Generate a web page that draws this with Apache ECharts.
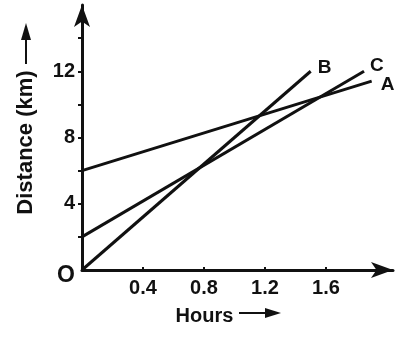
<!DOCTYPE html>
<html><head><meta charset="utf-8">
<script src="https://cdn.jsdelivr.net/npm/echarts@6/dist/echarts.min.js"></script>
<style>html,body{margin:0;padding:0;background:#fff}#c{width:404px;height:338px}</style>
</head><body><div id="c"></div>
<script>
// ---- data ----
const lineNames = ['A', 'B', 'C'];
const aHours = [0, 1.9];
const aDistance = [6, 11.4];
const bHours = [0, 1.5];
const bDistance = [0, 12];
const cHours = [0, 1.85];
const cDistance = [2, 12];
const xTickValues = [0.4, 0.8, 1.2, 1.6];
const xTickLabels = ['0.4', '0.8', '1.2', '1.6'];
const yTickValues = [2, 4, 6, 8, 10, 12, 14];
const yLabelValues = [0, 4, 8, 12];
const yTickLabels = ['O', '4', '8', '12'];
const xAxisTitle = 'Hours';
const yAxisTitle = 'Distance (km)';

const FONT = "'Liberation Sans', Arial, sans-serif";
const INK = '#111';

function pairs(xs, ys) { return xs.map((x, i) => [x, ys[i]]); }
const seriesData = [pairs(aHours, aDistance), pairs(bHours, bDistance), pairs(cHours, cDistance)];
const labelOffsets = [[4, 4], [2, -3], [1, -5]];

const chart = echarts.init(document.getElementById('c'), null, { renderer: 'canvas' });

const near = (a, b) => Math.abs(a - b) < 1e-6;

chart.setOption({
  animation: false,
  backgroundColor: '#fff',
  grid: { left: 82, right: 11, top: 5, bottom: 68, containLabel: false },
  xAxis: {
    type: 'value', min: 0, max: 2.04, interval: 0.4,
    name: xAxisTitle, nameLocation: 'middle', nameGap: 36,
    nameTextStyle: { fontFamily: FONT, fontWeight: 'bold', fontSize: 20, color: INK, padding: [0, 66, 0, 0] },
    axisLine: { show: true, symbol: ['none', 'arrow'], symbolSize: [12, 22], lineStyle: { color: INK, width: 3 } },
    axisTick: { show: true, inside: true, length: 3, customValues: xTickValues, lineStyle: { color: INK, width: 2 } },
    splitLine: { show: false },
    axisLabel: {
      margin: 8, fontFamily: FONT, fontWeight: 'bold', fontSize: 20, color: INK,
      customValues: xTickValues,
      formatter: v => { const i = xTickValues.findIndex(t => near(t, v)); return i >= 0 ? xTickLabels[i] : ''; }
    }
  },
  yAxis: {
    type: 'value', min: 0, max: 16, interval: 2,
    name: yAxisTitle, nameLocation: 'middle', nameGap: 45, nameRotate: 90,
    nameTextStyle: { fontFamily: FONT, fontWeight: 'bold', fontSize: 22, color: INK, padding: [0, 10, 0, 0] },
    axisLine: { show: true, symbol: ['none', 'arrow'], symbolSize: [12, 22], lineStyle: { color: INK, width: 3 } },
    axisTick: { show: true, length: 4, customValues: yTickValues, lineStyle: { color: INK, width: 2 } },
    splitLine: { show: false },
    axisLabel: {
      margin: 7, fontFamily: FONT, fontWeight: 'bold', fontSize: 20, color: INK,
      customValues: yLabelValues,
      formatter: v => {
        const i = yLabelValues.findIndex(t => near(t, v));
        if (i < 0) return '';
        return v === 0 ? '{o|' + yTickLabels[i] + '}' : yTickLabels[i];
      },
      rich: { o: { fontFamily: FONT, fontWeight: 'bold', fontSize: 23, color: INK, padding: [12, 0, 0, 0] } }
    }
  },
  graphic: [
    { type: 'line', shape: { x1: 26, y1: 64, x2: 26, y2: 36 }, style: { stroke: INK, lineWidth: 2 } },
    { type: 'polygon', shape: { points: [[26, 23], [21, 40], [31, 40]] }, style: { fill: INK } },
    { type: 'line', shape: { x1: 239, y1: 313, x2: 268, y2: 313 }, style: { stroke: INK, lineWidth: 2 } },
    { type: 'polygon', shape: { points: [[281, 313], [265, 308], [265, 318]] }, style: { fill: INK } }
  ],
  series: lineNames.map((nm, k) => ({
    type: 'line', name: nm, data: seriesData[k],
    showSymbol: false, symbol: 'none',
    lineStyle: { color: INK, width: 3 },
    endLabel: {
      show: true, formatter: nm, distance: 5, offset: labelOffsets[k],
      fontFamily: FONT, fontWeight: 'bold', fontSize: 19, color: INK
    },
    z: 3
  }))
});
</script>
</body></html>
